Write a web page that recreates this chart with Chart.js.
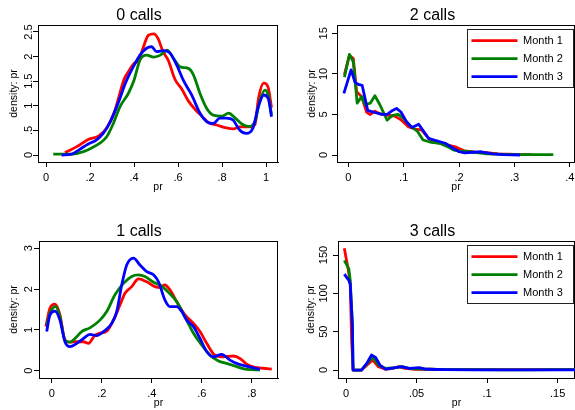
<!DOCTYPE html>
<html>
<head>
<meta charset="utf-8">
<script src="https://cdn.jsdelivr.net/npm/chart.js@4.4.1/dist/chart.umd.min.js"></script>
<style>
html,body{margin:0;padding:0;background:#fff;overflow:hidden;width:575px;height:410px;position:relative}
canvas{position:absolute}
</style>
</head>
<body>
<canvas id="c0"></canvas>
<canvas id="c2"></canvas>
<canvas id="c1"></canvas>
<canvas id="c3"></canvas>
<script>
// ---------- data ----------
const seriesLabels = ['Month 1', 'Month 2', 'Month 3'];
const panelTitles = ['0 calls', '2 calls', '1 calls', '3 calls'];
const yTitle = 'density: pr';
const xTitle = 'pr';

// 0 calls
const calls0Month1X = [0.086,0.14,0.19,0.24,0.276,0.31,0.355,0.374,0.40,0.42,0.44,0.465,0.49,0.51,0.53,0.556,0.586,0.617,0.647,0.677,0.708,0.738,0.776,0.82,0.85,0.88,0.92,0.95,0.965,0.99,1.01,1.025];
const calls0Month1Y = [0.05,0.17,0.31,0.39,0.55,0.86,1.54,1.69,1.86,1.92,2.16,2.43,2.46,2.36,2.12,1.92,1.54,1.34,1.10,0.93,0.79,0.66,0.61,0.55,0.53,0.57,0.57,0.62,1.13,1.46,1.37,0.96];
const calls0Month2X = [0.033,0.086,0.12,0.17,0.21,0.245,0.276,0.306,0.336,0.374,0.40,0.427,0.457,0.49,0.52,0.55,0.58,0.61,0.647,0.67,0.70,0.73,0.76,0.80,0.83,0.86,0.89,0.92,0.95,0.973,0.995,1.01,1.025];
const calls0Month2Y = [0.02,0.02,0.02,0.07,0.15,0.24,0.37,0.64,0.98,1.25,1.52,1.93,2.03,1.99,2.03,2.13,1.96,1.79,1.76,1.63,1.25,0.95,0.81,0.79,0.85,0.75,0.63,0.58,0.68,1.12,1.32,1.22,0.82];
const calls0Month3X = [0.071,0.117,0.155,0.19,0.23,0.26,0.29,0.33,0.36,0.40,0.427,0.457,0.48,0.503,0.533,0.564,0.594,0.624,0.662,0.70,0.73,0.76,0.79,0.82,0.85,0.88,0.91,0.94,0.965,0.99,1.01,1.025];
const calls0Month3Y = [0.0,0.02,0.12,0.22,0.31,0.44,0.66,1.08,1.45,1.82,2.03,2.17,2.2,2.10,2.12,2.07,1.83,1.52,1.22,0.85,0.68,0.64,0.75,0.75,0.71,0.51,0.44,0.54,0.98,1.22,1.15,0.78];

// 2 calls
const calls2Month1X = [-0.007,0.002,0.009,0.015,0.024,0.033,0.039,0.048,0.057,0.072,0.084,0.096,0.108,0.12,0.132,0.145,0.157,0.175,0.193,0.21,0.23,0.25,0.27,0.29,0.31,0.33];
const calls2Month1Y = [9.9,12.3,11.9,7.8,7.2,5.3,5.0,5.4,5.1,4.9,4.8,4.3,3.5,3.2,3.1,2.05,1.55,1.3,1.0,0.5,0.35,0.3,0.15,0.1,0.05,0.05];
const calls2Month2X = [-0.007,0.002,0.009,0.016,0.024,0.030,0.040,0.048,0.057,0.070,0.080,0.090,0.100,0.110,0.125,0.135,0.150,0.165,0.180,0.190,0.200,0.220,0.250,0.270,0.300,0.330,0.370];
const calls2Month2Y = [9.6,12.4,11.5,6.4,7.2,6.2,6.4,7.3,6.2,4.3,4.9,5.0,4.5,3.7,2.9,1.85,1.55,1.45,1.0,0.6,0.5,0.4,0.15,0.1,0.05,0.05,0.05];
const calls2Month3X = [-0.008,0.005,0.012,0.018,0.025,0.035,0.045,0.060,0.070,0.080,0.087,0.095,0.105,0.115,0.127,0.145,0.155,0.175,0.190,0.200,0.210,0.240,0.260,0.280,0.310];
const calls2Month3Y = [7.6,10.5,9.0,8.7,8.6,5.5,5.3,5.0,5.0,5.5,5.75,5.3,4.1,3.4,3.8,2.05,1.85,1.45,0.8,0.4,0.25,0.4,0.15,0.05,0.0];

// 1 calls
const calls1Month1X = [-0.023,-0.007,0.013,0.033,0.053,0.073,0.1,0.127,0.147,0.173,0.193,0.22,0.247,0.273,0.293,0.32,0.347,0.38,0.413,0.433,0.453,0.473,0.5,0.533,0.567,0.593,0.62,0.653,0.687,0.727,0.753,0.78,0.813,0.847,0.88];
const calls1Month1Y = [1.08,1.53,1.63,1.37,0.75,0.70,0.71,0.71,0.67,0.87,0.92,0.97,1.24,1.61,1.90,2.06,2.25,2.18,2.06,2.04,2.10,1.98,1.69,1.37,1.16,0.96,0.67,0.38,0.34,0.36,0.30,0.16,0.08,0.06,0.04];
const calls1Month2X = [-0.02,-0.004,0.016,0.033,0.053,0.073,0.093,0.12,0.153,0.193,0.22,0.253,0.287,0.32,0.347,0.373,0.407,0.433,0.467,0.5,0.533,0.567,0.6,0.633,0.667,0.7,0.74,0.78,0.833];
const calls1Month2Y = [1.12,1.45,1.57,1.32,0.75,0.70,0.79,0.96,1.05,1.24,1.45,1.86,2.14,2.31,2.35,2.31,2.17,2.10,1.92,1.69,1.32,0.92,0.63,0.38,0.24,0.18,0.10,0.03,0.02];
const calls1Month3X = [-0.02,-0.007,0.013,0.033,0.053,0.073,0.1,0.127,0.153,0.18,0.207,0.24,0.26,0.28,0.30,0.327,0.353,0.38,0.407,0.427,0.453,0.473,0.5,0.52,0.54,0.567,0.593,0.62,0.647,0.68,0.713,0.747,0.787,0.833];
const calls1Month3Y = [0.96,1.37,1.46,1.24,0.71,0.59,0.67,0.79,0.89,0.86,0.96,1.16,1.45,2.10,2.59,2.76,2.59,2.43,2.35,2.18,1.73,1.57,1.57,1.45,1.24,1.08,0.79,0.47,0.34,0.40,0.26,0.16,0.10,0.03];

// 3 calls
const calls3Month1X = [-0.0012,0.0017,0.003,0.004,0.005,0.011,0.015,0.019,0.023,0.028,0.033,0.037,0.042,0.049,0.056,0.07,0.09,0.11,0.13,0.15,0.163];
const calls3Month1Y = [159,130,112,39,0,0,6.5,13,4.3,1,2.2,4.3,2.2,1,1,0.5,0.5,0.5,0.5,0.5,0.5];
const calls3Month2X = [-0.0012,0.002,0.003,0.0045,0.005,0.011,0.015,0.019,0.023,0.028,0.035,0.04,0.045,0.055,0.06,0.07,0.09,0.11,0.13,0.15,0.163];
const calls3Month2Y = [143,132,117,60,0,0,8.6,17,6.5,2,3,4.3,2,1.3,1,0.5,0.5,0.3,0.3,0.5,0.5];
const calls3Month3X = [-0.0012,0.002,0.003,0.0045,0.005,0.011,0.015,0.018,0.021,0.024,0.028,0.033,0.039,0.045,0.052,0.056,0.06,0.07,0.09,0.11,0.13,0.15,0.163];
const calls3Month3Y = [125,117,112,60,0,0,9.5,19.5,16.4,6.5,1.3,2.6,4.3,2.2,3,1.3,1,0.5,0.3,0.3,0.3,0.3,0.3];

// ticks
const xTicks0 = [0,0.2,0.4,0.6,0.8,1];      const xTickLabels0 = ['0','.2','.4','.6','.8','1'];
const yTicks0 = [0,0.5,1,1.5,2,2.5];        const yTickLabels0 = ['0','.5','1','1.5','2','2.5'];
const xTicks2 = [0,0.1,0.2,0.3,0.4];        const xTickLabels2 = ['0','.1','.2','.3','.4'];
const yTicks2 = [0,5,10,15];                const yTickLabels2 = ['0','5','10','15'];
const xTicks1 = [0,0.2,0.4,0.6,0.8];        const xTickLabels1 = ['0','.2','.4','.6','.8'];
const yTicks1 = [0,1,2,3];                  const yTickLabels1 = ['0','1','2','3'];
const xTicks3 = [0,0.05,0.1,0.15];          const xTickLabels3 = ['0','.05','.1','.15'];
const yTicks3 = [0,50,100,150];             const yTickLabels3 = ['0','50','100','150'];

// ---------- styles / layout ----------
const colors = ['#ff0000', '#008000', '#0000ff'];
Chart.defaults.font.family = 'Liberation Sans, Arial, Helvetica, sans-serif';
Chart.defaults.color = '#000';

const zip = (xs, ys) => xs.map((x, i) => ({x: x, y: ys[i]}));

const framePlugin = {
  id: 'stataFrame',
  beforeDraw(chart) {
    const {ctx, chartArea: a} = chart;
    ctx.save();
    ctx.strokeStyle = '#000';
    ctx.lineWidth = 1;
    ctx.beginPath();
    ctx.moveTo(a.left, Math.round(a.top) + 0.5); ctx.lineTo(a.right, Math.round(a.top) + 0.5);
    ctx.moveTo(Math.round(a.right) - 0.5, a.top); ctx.lineTo(Math.round(a.right) - 0.5, a.bottom);
    ctx.stroke();
    const lg = chart.legend;
    if (lg && lg.options.display) {
      const fw = 106, fh = 58;
      const fx = Math.round(a.right - 2 - fw), fy = Math.round(a.top + 4);
      ctx.fillStyle = '#fff';
      ctx.fillRect(fx, fy, fw, fh);
      ctx.strokeStyle = '#222';
      ctx.strokeRect(fx + 0.5, fy + 0.5, fw, fh);
      const pad = lg.options.labels.padding;
      lg.left = fx + 4.5 - pad;
      lg.top = fy + 6.2 - pad;
      lg.right = fx + fw;
      lg.bottom = a.bottom;
      lg.width = lg.right - lg.left;
      lg.height = lg.bottom - lg.top;
    }
    ctx.restore();
  }
};

function makePanel(id, g, title, series, smooth, xt, xl, yt, yl, showLegend) {
  const canvas = document.getElementById(id);
  const W = g.yW + g.areaW + g.yW;
  const H = 205;
  canvas.width = W; canvas.height = H;
  canvas.style.left = g.left + 'px'; canvas.style.top = g.top + 'px';
  canvas.style.width = W + 'px'; canvas.style.height = H + 'px';
  const order = [2, 1, 0];
  const datasets = series.map((s, i) => ({
    label: seriesLabels[i],
    data: zip(s[0], s[1]),
    borderColor: colors[i],
    backgroundColor: colors[i],
    pointBorderColor: colors[i],
    pointBorderWidth: 2.8,
    borderWidth: 2.8,
    pointRadius: 0,
    pointHoverRadius: 0,
    fill: false,
    order: order[i],
    tension: smooth ? 0.4 : 0,
    cubicInterpolationMode: smooth ? 'monotone' : 'default',
    borderJoinStyle: 'round',
    borderCapStyle: 'butt'
  }));
  return new Chart(canvas, {
    type: 'line',
    data: {datasets},
    plugins: [framePlugin],
    options: {
      responsive: false,
      animation: false,
      devicePixelRatio: 1,
      events: [],
      layout: {padding: {left: 0, right: g.yW, top: 0, bottom: 0}},
      plugins: {
        title: {display: true, text: title, color: '#000', font: {size: 16, weight: 'normal'}, padding: {top: 5.8, bottom: 0}},
        legend: {
          display: showLegend,
          position: 'chartArea',
          align: 'start',
          labels: {
            usePointStyle: true, pointStyle: 'line', pointStyleWidth: 46, boxHeight: 11,
            padding: 7, color: '#000', font: {size: 11},
            sort: (a, b) => a.datasetIndex - b.datasetIndex
          }
        },
        tooltip: {enabled: false}
      },
      scales: {
        x: {
          type: 'linear', position: 'bottom', min: g.xMin, max: g.xMax,
          afterBuildTicks: s => { s.ticks = xt.map(v => ({value: v})); },
          afterFit: s => { s.height = 43; },
          border: {display: true, color: '#000', width: 1},
          grid: {display: true, drawOnChartArea: false, drawTicks: true, tickLength: 5, color: '#000', lineWidth: 1},
          ticks: {autoSkip: false, maxRotation: 0, minRotation: 0, padding: 4, color: '#000', font: {size: 11}, callback: (v, i) => xl[i]},
          title: {display: true, text: xTitle, color: '#000', font: {size: 10.5}, padding: {top: 0, bottom: 12}}
        },
        y: {
          type: 'linear', position: 'left', min: g.yMin, max: g.yMax,
          afterBuildTicks: s => { s.ticks = yt.map(v => ({value: v})); },
          afterFit: s => { s.width = g.yW; },
          border: {display: true, color: '#000', width: 1},
          grid: {display: true, drawOnChartArea: false, drawTicks: true, tickLength: 5, color: '#000', lineWidth: 1},
          ticks: {autoSkip: false, minRotation: 90, maxRotation: 90, crossAlign: 'center', padding: g.yPad, color: '#000', font: {size: 11}, callback: (v, i) => yl[i]},
          title: {display: true, text: yTitle, color: '#000', font: {size: 10.5}, padding: {top: g.yTitlePad, bottom: 0}}
        }
      }
    }
  });
}

makePanel('c0', {left: 0, top: 0, yW: 38, areaW: 240, xMin: -0.0364, xMax: 1.0545, yMin: -0.142, yMax: 2.642, yPad: -3.85, yTitlePad: 7.7},
  panelTitles[0], [[calls0Month1X, calls0Month1Y], [calls0Month2X, calls0Month2Y], [calls0Month3X, calls0Month3Y]], true,
  xTicks0, xTickLabels0, yTicks0, yTickLabels0, false);
makePanel('c2', {left: 290, top: 0, yW: 47, areaW: 238, xMin: -0.0204, xMax: 0.4092, yMin: -0.863, yMax: 16.03, yPad: 1.9, yTitlePad: 15.7},
  panelTitles[1], [[calls2Month1X, calls2Month1Y], [calls2Month2X, calls2Month2Y], [calls2Month3X, calls2Month3Y]], false,
  xTicks2, xTickLabels2, yTicks2, yTickLabels2, true);
makePanel('c1', {left: 0, top: 216, yW: 39, areaW: 239, xMin: -0.0508, xMax: 0.905, yMin: -0.179, yMax: 3.179, yPad: 1.7, yTitlePad: 7.7},
  panelTitles[2], [[calls1Month1X, calls1Month1Y], [calls1Month2X, calls1Month2Y], [calls1Month3X, calls1Month3Y]], true,
  xTicks1, xTickLabels1, yTicks1, yTickLabels1, false);
makePanel('c3', {left: 290, top: 216, yW: 48, areaW: 237, xMin: -0.00567, xMax: 0.1623, yMin: -10.4, yMax: 168.3, yPad: 0, yTitlePad: 15.2},
  panelTitles[3], [[calls3Month1X, calls3Month1Y], [calls3Month2X, calls3Month2Y], [calls3Month3X, calls3Month3Y]], false,
  xTicks3, xTickLabels3, yTicks3, yTickLabels3, true);
</script>
</body>
</html>
